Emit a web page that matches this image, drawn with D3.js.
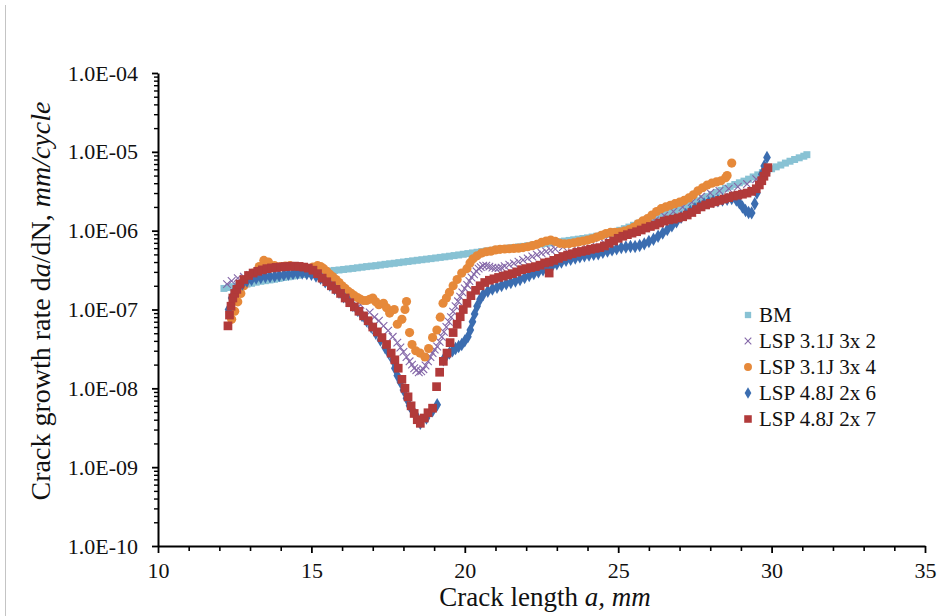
<!DOCTYPE html>
<html>
<head>
<meta charset="utf-8">
<script src="https://cdn.jsdelivr.net/npm/d3@7"></script>
<style>
  body { margin: 0; background: #ffffff; }
  svg { display: block; }
  text { font-family: "Liberation Serif", "Times New Roman", serif; fill: #111; }
</style>
</head>
<body>
<svg id="chart" width="938" height="616"></svg>
<script>
// crack growth rate data [crack length a (mm), da/dN (mm/cycle)]
const bm_data = [
  [12.15,1.85e-7],[12.3,1.9e-7],[12.45,1.95e-7],[12.6,2.0e-7],[12.75,2.05e-7],[12.9,2.1e-7],
  [13.05,2.15e-7],[13.2,2.22e-7],[13.35,2.28e-7],[13.5,2.32e-7],[13.65,2.37e-7],[13.8,2.42e-7],
  [13.95,2.48e-7],[14.1,2.55e-7],[14.25,2.6e-7],[14.4,2.66e-7],[14.55,2.72e-7],[14.7,2.78e-7],
  [14.85,2.85e-7],[15.0,2.9e-7],[15.15,2.95e-7],[15.3,3.0e-7],[15.45,3.04e-7],[15.6,3.08e-7],
  [15.75,3.13e-7],[15.9,3.17e-7],[16.05,3.22e-7],[16.2,3.27e-7],[16.35,3.32e-7],[16.5,3.38e-7],
  [16.65,3.44e-7],[16.8,3.5e-7],[16.95,3.55e-7],[17.1,3.6e-7],[17.25,3.67e-7],[17.4,3.74e-7],
  [17.55,3.8e-7],[17.7,3.86e-7],[17.85,3.93e-7],[18.0,4.0e-7],[18.15,4.07e-7],[18.3,4.14e-7],
  [18.45,4.21e-7],[18.6,4.28e-7],[18.75,4.35e-7],[18.9,4.42e-7],[19.05,4.5e-7],[19.2,4.58e-7],
  [19.35,4.66e-7],[19.5,4.74e-7],[19.65,4.83e-7],[19.8,4.92e-7],[19.95,5.02e-7],[20.1,5.12e-7],
  [20.25,5.22e-7],[20.4,5.32e-7],[20.55,5.42e-7],[20.7,5.52e-7],[20.85,5.62e-7],[21.0,5.72e-7],
  [21.15,5.82e-7],[21.3,5.92e-7],[21.45,6.02e-7],[21.6,6.12e-7],[21.75,6.22e-7],[21.9,6.32e-7],
  [22.05,6.43e-7],[22.2,6.54e-7],[22.35,6.65e-7],[22.5,6.76e-7],[22.65,6.88e-7],[22.8,7.0e-7],
  [22.95,7.12e-7],[23.1,7.25e-7],[23.25,7.38e-7],[23.4,7.52e-7],[23.55,7.66e-7],[23.7,7.8e-7],
  [23.85,7.95e-7],[24.0,8.1e-7],[24.15,8.3e-7],[24.3,8.5e-7],[24.45,8.75e-7],[24.6,9.0e-7],
  [24.75,9.3e-7],[24.9,9.7e-7],[25.05,1.01e-6],[25.2,1.06e-6],[25.35,1.11e-6],[25.5,1.17e-6],
  [25.65,1.24e-6],[25.8,1.31e-6],[25.95,1.39e-6],[26.1,1.47e-6],[26.25,1.53e-6],[26.4,1.59e-6],
  [26.55,1.65e-6],[26.7,1.72e-6],[26.85,1.8e-6],[27.0,1.9e-6],[27.15,2.0e-6],[27.3,2.12e-6],
  [27.45,2.25e-6],[27.6,2.4e-6],[27.75,2.55e-6],[27.9,2.7e-6],[28.05,2.88e-6],[28.2,3.06e-6],
  [28.35,3.25e-6],[28.5,3.45e-6],[28.65,3.65e-6],[28.8,3.85e-6],[28.95,4.05e-6],[29.1,4.25e-6],
  [29.25,4.5e-6],[29.4,4.8e-6],[29.55,5.1e-6],[29.7,5.45e-6],[29.85,5.8e-6],[30.0,6.1e-6],
  [30.15,6.45e-6],[30.3,6.8e-6],[30.45,7.2e-6],[30.6,7.6e-6],[30.75,8.0e-6],[30.9,8.4e-6],
  [31.05,8.8e-6],[31.15,9.2e-6]
];

const lsp31_3x2_data = [
  [12.25,2.1e-7],[12.4,2.3e-7],[12.6,2.5e-7],[12.8,2.6e-7],[13.0,2.75e-7],[13.3,2.9e-7],
  [13.6,3.0e-7],[13.9,3.1e-7],[14.2,3.2e-7],[14.5,3.25e-7],[14.8,3.2e-7],[15.1,3.1e-7],
  [15.4,2.8e-7],[15.7,2.3e-7],[16.0,1.75e-7],[16.3,1.45e-7],[16.6,1.15e-7],[16.9,9.2e-8],
  [17.05,8.0e-8],[17.2,7.2e-8],[17.35,6.2e-8],[17.5,5.4e-8],[17.65,4.5e-8],[17.8,3.8e-8],
  [17.9,3.3e-8],[18.0,2.9e-8],[18.1,2.5e-8],[18.2,2.2e-8],[18.28,2.0e-8],[18.35,1.8e-8],
  [18.42,1.7e-8],[18.5,1.6e-8],[18.58,1.65e-8],[18.65,1.75e-8],[18.72,1.95e-8],[18.8,2.2e-8],
  [18.88,2.5e-8],[18.95,2.8e-8],[19.02,3.1e-8],[19.1,3.4e-8],[19.18,3.9e-8],[19.25,4.5e-8],
  [19.32,5.2e-8],[19.4,6.0e-8],[19.48,7.0e-8],[19.55,8.0e-8],[19.62,9.4e-8],[19.7,1.1e-7],
  [19.78,1.27e-7],[19.85,1.45e-7],[19.92,1.65e-7],[20.0,1.85e-7],[20.08,2.05e-7],[20.15,2.3e-7],
  [20.22,2.55e-7],[20.3,2.8e-7],[20.38,3.05e-7],[20.45,3.3e-7],[20.52,3.45e-7],[20.6,3.6e-7],
  [20.7,3.6e-7],[20.8,3.5e-7],[20.9,3.4e-7],[21.0,3.35e-7],[21.1,3.35e-7],[21.2,3.4e-7],
  [21.3,3.55e-7],[21.45,3.7e-7],[21.6,3.85e-7],[21.75,4.05e-7],[21.9,4.25e-7],[22.05,4.45e-7],
  [22.2,4.7e-7],[22.35,4.95e-7],[22.5,5.2e-7],[22.65,5.45e-7],[22.8,5.65e-7],[22.95,5.85e-7],
  [23.2,6.2e-7],[23.5,6.6e-7],[23.8,7.0e-7],[24.1,7.5e-7],[24.4,8.0e-7],[24.7,8.6e-7],
  [25.0,9.2e-7],[25.3,1.0e-6],[25.6,1.1e-6],[25.9,1.2e-6],[26.2,1.35e-6],[26.5,1.55e-6],
  [26.8,1.75e-6],[27.1,2.0e-6],[27.4,2.3e-6],[27.7,2.7e-6],[28.0,3.0e-6],[28.3,3.2e-6],
  [28.6,3.4e-6],[28.9,3.6e-6],[29.2,3.9e-6],[29.5,4.5e-6]
];

const lsp31_3x4_data = [
  [12.4,7.5e-8],[12.5,9.5e-8],[12.6,1.25e-7],[12.7,1.6e-7],[12.8,2.0e-7],[12.95,2.5e-7],
  [13.1,2.9e-7],[13.3,3.5e-7],[13.45,4.2e-7],[13.6,4.0e-7],[13.8,3.6e-7],[14.0,3.5e-7],
  [14.15,3.55e-7],[14.3,3.6e-7],[14.45,3.5e-7],[14.6,3.4e-7],[14.75,3.35e-7],[14.9,3.3e-7],
  [15.05,3.45e-7],[15.2,3.6e-7],[15.3,3.5e-7],[15.4,3.3e-7],[15.5,3.05e-7],[15.6,2.8e-7],
  [15.7,2.6e-7],[15.8,2.4e-7],[15.9,2.2e-7],[16.0,2.0e-7],[16.1,1.85e-7],[16.2,1.7e-7],
  [16.3,1.6e-7],[16.4,1.5e-7],[16.5,1.42e-7],[16.6,1.35e-7],[16.7,1.3e-7],[16.8,1.3e-7],
  [16.9,1.35e-7],[17.0,1.4e-7],[17.1,1.25e-7],[17.2,1.15e-7],[17.35,1.2e-7],[17.45,1.05e-7],
  [17.55,9.0e-8],[17.7,1.0e-7],[17.8,6.5e-8],[17.95,7.5e-8],[18.1,1.26e-7],[18.05,1.0e-7],
  [18.2,5.1e-8],[18.28,3.6e-8],[18.4,3.0e-8],[18.54,2.8e-8],[18.7,2.5e-8],[18.82,3.2e-8],
  [18.95,4.4e-8],[19.09,5.5e-8],[19.2,8.0e-8],[19.29,1.2e-7],[19.4,1.4e-7],[19.5,1.65e-7],
  [19.62,2.0e-7],[19.75,2.4e-7],[19.9,2.9e-7],[20.07,3.3e-7],[20.17,3.9e-7],[20.27,4.4e-7],
  [20.4,4.8e-7],[20.55,5.2e-7],[20.7,5.4e-7],[20.85,5.5e-7],[21.0,5.7e-7],[21.15,5.8e-7],
  [21.3,5.85e-7],[21.45,5.9e-7],[21.6,5.95e-7],[21.75,6.0e-7],[21.9,6.1e-7],[22.05,6.25e-7],
  [22.2,6.45e-7],[22.35,6.7e-7],[22.5,7.1e-7],[22.65,7.4e-7],[22.8,7.6e-7],[22.95,7.3e-7],
  [23.1,6.9e-7],[23.25,6.8e-7],[23.4,6.85e-7],[23.55,7.0e-7],[23.7,7.2e-7],[23.85,7.4e-7],
  [24.0,7.6e-7],[24.15,7.9e-7],[24.3,8.3e-7],[24.45,8.7e-7],[24.6,9.2e-7],[24.75,9.5e-7],
  [24.9,9.5e-7],[25.05,9.6e-7],[25.2,9.9e-7],[25.35,1.03e-6],[25.5,1.1e-6],[25.65,1.22e-6],
  [25.8,1.33e-6],[25.95,1.42e-6],[26.1,1.58e-6],[26.25,1.75e-6],[26.4,1.9e-6],[26.55,2.0e-6],
  [26.7,2.1e-6],[26.85,2.2e-6],[27.0,2.3e-6],[27.15,2.42e-6],[27.3,2.6e-6],[27.45,2.85e-6],
  [27.6,3.2e-6],[27.75,3.5e-6],[27.9,3.8e-6],[28.05,4.0e-6],[28.2,4.15e-6],[28.35,4.3e-6],
  [28.5,4.7e-6],[28.55,5.0e-6],[28.7,7.2e-6]
];

const lsp48_2x6_data = [
  [12.3,1.0e-7],[12.4,1.4e-7],[12.5,1.7e-7],[12.6,1.9e-7],[12.75,2.1e-7],[12.9,2.3e-7],
  [13.05,2.4e-7],[13.2,2.5e-7],[13.35,2.55e-7],[13.5,2.6e-7],[13.65,2.62e-7],[13.8,2.65e-7],
  [13.95,2.7e-7],[14.1,2.75e-7],[14.25,2.8e-7],[14.4,2.85e-7],[14.55,2.88e-7],[14.7,2.9e-7],
  [14.85,2.85e-7],[15.0,2.8e-7],[15.15,2.65e-7],[15.3,2.5e-7],[15.45,2.25e-7],[15.6,2.05e-7],
  [15.75,1.85e-7],[15.9,1.65e-7],[16.05,1.45e-7],[16.2,1.3e-7],[16.35,1.12e-7],[16.5,9.8e-8],
  [16.65,8.4e-8],[16.8,7.2e-8],[16.95,6.0e-8],[17.1,5.0e-8],[17.25,4.1e-8],[17.4,3.3e-8],
  [17.52,2.8e-8],[17.65,2.3e-8],[17.72,1.8e-8],[17.8,1.45e-8],[17.9,1.2e-8],[18.0,9.5e-9],
  [18.1,7.5e-9],[18.2,6.0e-9],[18.3,5.2e-9],[18.4,4.6e-9],[18.55,3.6e-9],[18.75,4.2e-9],
  [18.95,5.2e-9],[19.1,6.2e-9],[19.3,2.3e-8],[19.4,2.6e-8],[19.5,2.8e-8],[19.6,3.0e-8],
  [19.7,3.2e-8],[19.8,3.4e-8],[19.9,3.6e-8],[20.0,4.0e-8],[20.1,4.5e-8],[20.18,5.5e-8],
  [20.25,7.0e-8],[20.32,8.8e-8],[20.4,1.1e-7],[20.5,1.35e-7],[20.6,1.55e-7],[20.75,1.7e-7],
  [20.9,1.82e-7],[21.05,1.92e-7],[21.2,2.02e-7],[21.35,2.12e-7],[21.5,2.2e-7],[21.65,2.3e-7],
  [21.8,2.4e-7],[21.95,2.55e-7],[22.1,2.7e-7],[22.25,2.85e-7],[22.4,3.0e-7],[22.55,3.2e-7],
  [22.7,3.4e-7],[22.85,3.6e-7],[23.0,3.8e-7],[23.15,4.0e-7],[23.3,4.2e-7],[23.45,4.35e-7],
  [23.6,4.5e-7],[23.75,4.65e-7],[23.9,4.8e-7],[24.05,4.9e-7],[24.2,5.0e-7],[24.35,5.1e-7],
  [24.5,5.3e-7],[24.65,5.5e-7],[24.8,5.7e-7],[24.95,5.9e-7],[25.1,6.1e-7],[25.25,6.2e-7],
  [25.4,6.3e-7],[25.55,6.3e-7],[25.7,6.5e-7],[25.85,6.8e-7],[26.0,7.3e-7],[26.15,7.8e-7],
  [26.3,8.5e-7],[26.45,9.3e-7],[26.6,1.03e-6],[26.75,1.15e-6],[26.9,1.3e-6],[27.05,1.48e-6],
  [27.2,1.6e-6],[27.35,1.75e-6],[27.5,1.9e-6],[27.65,2.05e-6],[27.8,2.18e-6],[27.95,2.28e-6],
  [28.1,2.35e-6],[28.25,2.4e-6],[28.4,2.45e-6],[28.55,2.5e-6],[28.7,2.55e-6],[28.85,2.45e-6],
  [28.95,2.25e-6],[29.05,2.0e-6],[29.15,1.8e-6],[29.25,1.7e-6],[29.35,1.68e-6],[29.45,2.2e-6],
  [29.52,3.0e-6],[29.6,4.0e-6],[29.68,5.2e-6],[29.76,6.6e-6],[29.85,8.5e-6]
];

const lsp48_2x7_data = [
  [12.28,6.2e-8],[12.33,8.5e-8],[12.38,1.1e-7],[12.44,1.4e-7],[12.5,1.6e-7],[12.57,1.8e-7],
  [12.67,2.1e-7],[12.8,2.4e-7],[12.95,2.7e-7],[13.1,2.9e-7],[13.25,3.05e-7],[13.4,3.18e-7],
  [13.55,3.3e-7],[13.7,3.37e-7],[13.85,3.42e-7],[14.0,3.47e-7],[14.15,3.5e-7],[14.3,3.53e-7],
  [14.45,3.55e-7],[14.6,3.52e-7],[14.75,3.45e-7],[14.9,3.35e-7],[15.05,3.15e-7],[15.2,2.85e-7],
  [15.35,2.5e-7],[15.5,2.25e-7],[15.65,2.0e-7],[15.8,1.8e-7],[15.95,1.6e-7],[16.1,1.4e-7],
  [16.25,1.22e-7],[16.4,1.08e-7],[16.55,9.5e-8],[16.7,8.3e-8],[16.85,7.2e-8],[17.0,6.0e-8],
  [17.15,5.2e-8],[17.3,4.4e-8],[17.45,3.6e-8],[17.6,2.8e-8],[17.72,2.3e-8],[17.83,1.8e-8],
  [17.95,1.3e-8],[18.05,1.0e-8],[18.15,7.8e-9],[18.25,6.0e-9],[18.35,4.8e-9],[18.45,4.0e-9],
  [18.55,3.6e-9],[18.68,4.2e-9],[18.8,4.9e-9],[18.95,5.6e-9],[19.08,1.05e-8],[19.18,1.6e-8],
  [19.3,2.2e-8],[19.42,2.8e-8],[19.52,3.8e-8],[19.62,5.1e-8],[19.75,6.5e-8],[19.85,8.1e-8],
  [19.95,1.0e-7],[20.07,1.2e-7],[20.2,1.5e-7],[20.35,1.75e-7],[20.5,2.0e-7],[20.65,2.2e-7],
  [20.8,2.35e-7],[20.95,2.45e-7],[21.1,2.55e-7],[21.25,2.65e-7],[21.4,2.75e-7],[21.55,2.85e-7],
  [21.7,3.0e-7],[21.85,3.2e-7],[22.0,3.3e-7],[22.15,3.4e-7],[22.3,3.5e-7],[22.45,3.65e-7],
  [22.6,3.9e-7],[22.75,2.9e-7],[22.75,4.0e-7],[22.9,4.2e-7],[23.05,4.45e-7],[23.2,4.7e-7],
  [23.35,4.9e-7],[23.5,5.1e-7],[23.65,5.3e-7],[23.8,5.45e-7],[23.95,5.6e-7],[24.1,5.8e-7],
  [24.25,5.95e-7],[24.4,6.1e-7],[24.55,6.4e-7],[24.7,6.9e-7],[24.85,7.4e-7],[25.0,8.0e-7],
  [25.15,8.5e-7],[25.3,8.9e-7],[25.45,9.3e-7],[25.6,9.7e-7],[25.75,1.02e-6],[25.9,1.08e-6],
  [26.05,1.13e-6],[26.2,1.18e-6],[26.35,1.25e-6],[26.5,1.32e-6],[26.65,1.37e-6],[26.8,1.4e-6],
  [26.95,1.45e-6],[27.1,1.5e-6],[27.25,1.58e-6],[27.4,1.7e-6],[27.55,1.85e-6],[27.7,2.0e-6],
  [27.85,2.12e-6],[28.0,2.22e-6],[28.15,2.32e-6],[28.3,2.42e-6],[28.45,2.52e-6],[28.6,2.62e-6],
  [28.75,2.75e-6],[28.9,2.82e-6],[29.05,2.9e-6],[29.2,3.0e-6],[29.35,3.15e-6],[29.5,3.4e-6],
  [29.6,3.8e-6],[29.68,4.3e-6],[29.75,4.9e-6],[29.82,5.5e-6],[29.88,6.3e-6]
];

const series_names = ["BM", "LSP 3.1J 3x 2", "LSP 3.1J 3x 4", "LSP 4.8J 2x 6", "LSP 4.8J 2x 7"];
const x_tick_values = [10, 15, 20, 25, 30, 35];
const y_tick_values = [1e-10, 1e-9, 1e-8, 1e-7, 1e-6, 1e-5, 1e-4];
const y_tick_labels = ["1.0E-10", "1.0E-09", "1.0E-08", "1.0E-07", "1.0E-06", "1.0E-05", "1.0E-04"];

// colours, close to the old excel palette
const bm_blue = "#88c2d4";
const lavender = "#8467a8";
const orange = "#e6893a";
const steel_blue = "#3b6db0";
const brick_red = "#b13a3a";

const svg = d3.select("#chart");

// thin grey line at the left edge of the picture
svg.append("line")
  .attr("x1", 5.5).attr("x2", 5.5).attr("y1", 5).attr("y2", 616)
  .attr("stroke", "#c4c4c4").attr("stroke-width", 1);

const xScale = d3.scaleLinear().domain([10, 35]).range([158, 925]);
const yScale = d3.scaleLog().domain([1e-10, 1e-4]).range([546, 73]);

// minor ticks first so the major ones sit on top
const x_minor = d3.range(11, 35).filter(d => d % 5 !== 0);
svg.append("g")
  .attr("transform", "translate(0,546)")
  .call(d3.axisBottom(xScale).tickValues(x_minor).tickSize(5).tickSizeOuter(0).tickFormat(""))
  .call(g => g.select(".domain").remove())
  .call(g => g.selectAll("line").attr("stroke", "#000").attr("stroke-width", 1.6));

let y_minor = [];
for (let e = -10; e < -4; e++) {
  for (let m = 2; m <= 9; m++) y_minor.push(m * Math.pow(10, e));
}
svg.append("g")
  .attr("transform", "translate(158,0)")
  .call(d3.axisLeft(yScale).tickValues(y_minor).tickSize(4).tickSizeOuter(0).tickFormat(""))
  .call(g => g.select(".domain").remove())
  .call(g => g.selectAll("line").attr("stroke", "#000").attr("stroke-width", 1.4));

const xAxis = svg.append("g")
  .attr("transform", "translate(0,546)")
  .call(d3.axisBottom(xScale).tickValues(x_tick_values).tickSize(7).tickSizeOuter(0).tickPadding(9));

const yAxis = svg.append("g")
  .attr("transform", "translate(158,0)")
  .call(d3.axisLeft(yScale).tickValues(y_tick_values).tickSize(6).tickSizeOuter(0).tickPadding(14)
    .tickFormat((d, i) => y_tick_labels[i]));

[xAxis, yAxis].forEach(ax => {
  ax.select(".domain").attr("stroke", "#000").attr("stroke-width", 2);
  ax.selectAll(".tick line").attr("stroke", "#000").attr("stroke-width", 1.8);
  ax.selectAll(".tick text")
    .style("font-family", "'Liberation Serif', 'Times New Roman', serif")
    .style("font-size", "22px").attr("fill", "#111");
});

// axis titles
svg.append("text")
  .attr("x", 545).attr("y", 606)
  .attr("text-anchor", "middle")
  .style("font-size", "27px")
  .call(t => {
    t.append("tspan").text("Crack length ");
    t.append("tspan").style("font-style", "italic").text("a, mm");
  });

svg.append("text")
  .attr("transform", "translate(40,301) rotate(-90)")
  .attr("text-anchor", "middle")
  .attr("dy", "0.35em")
  .style("font-size", "28px")
  .call(t => {
    t.append("tspan").text("Crack growth rate d");
    t.append("tspan").style("font-style", "italic").text("a");
    t.append("tspan").text("/dN, ");
    t.append("tspan").style("font-style", "italic").text("mm/cycle");
  });

// one entry per series, drawn in this order (last one on top)
const series = [
  { name: series_names[0], data: bm_data, type: d3.symbolSquare, size: 49, color: bm_blue, stroke: false },
  { name: series_names[1], data: lsp31_3x2_data, type: d3.symbolX, size: 40, color: lavender, stroke: true },
  { name: series_names[2], data: lsp31_3x4_data, type: d3.symbolCircle, size: 66, color: orange, stroke: false },
  { name: series_names[3], data: lsp48_2x6_data, type: d3.symbolDiamond, size: 52, color: steel_blue, stroke: false },
  { name: series_names[4], data: lsp48_2x7_data, type: d3.symbolSquare, size: 76, color: brick_red, stroke: false }
];

const plot = svg.append("g");
series.forEach(s => {
  const sym = d3.symbol().type(s.type).size(s.size);
  plot.append("g").selectAll("path")
    .data(s.data)
    .join("path")
    .attr("transform", d => `translate(${xScale(d[0])},${yScale(d[1])})`)
    .attr("d", sym)
    .attr("fill", s.stroke ? "none" : s.color)
    .attr("stroke", s.stroke ? s.color : "none")
    .attr("stroke-width", 1.1);
});

// legend
const legend = svg.append("g").attr("transform", "translate(748,315)");
series.forEach((s, i) => {
  const row = legend.append("g").attr("transform", `translate(0,${i * 26})`);
  row.append("path")
    .attr("d", d3.symbol().type(s.type).size(i === 0 ? 40 : s.size * 0.75))
    .attr("fill", s.stroke ? "none" : s.color)
    .attr("stroke", s.stroke ? s.color : "none")
    .attr("stroke-width", 1.1);
  row.append("text")
    .attr("x", 11).attr("dy", "0.35em")
    .style("font-size", "21px")
    .text(s.name);
});
</script>
</body>
</html>
